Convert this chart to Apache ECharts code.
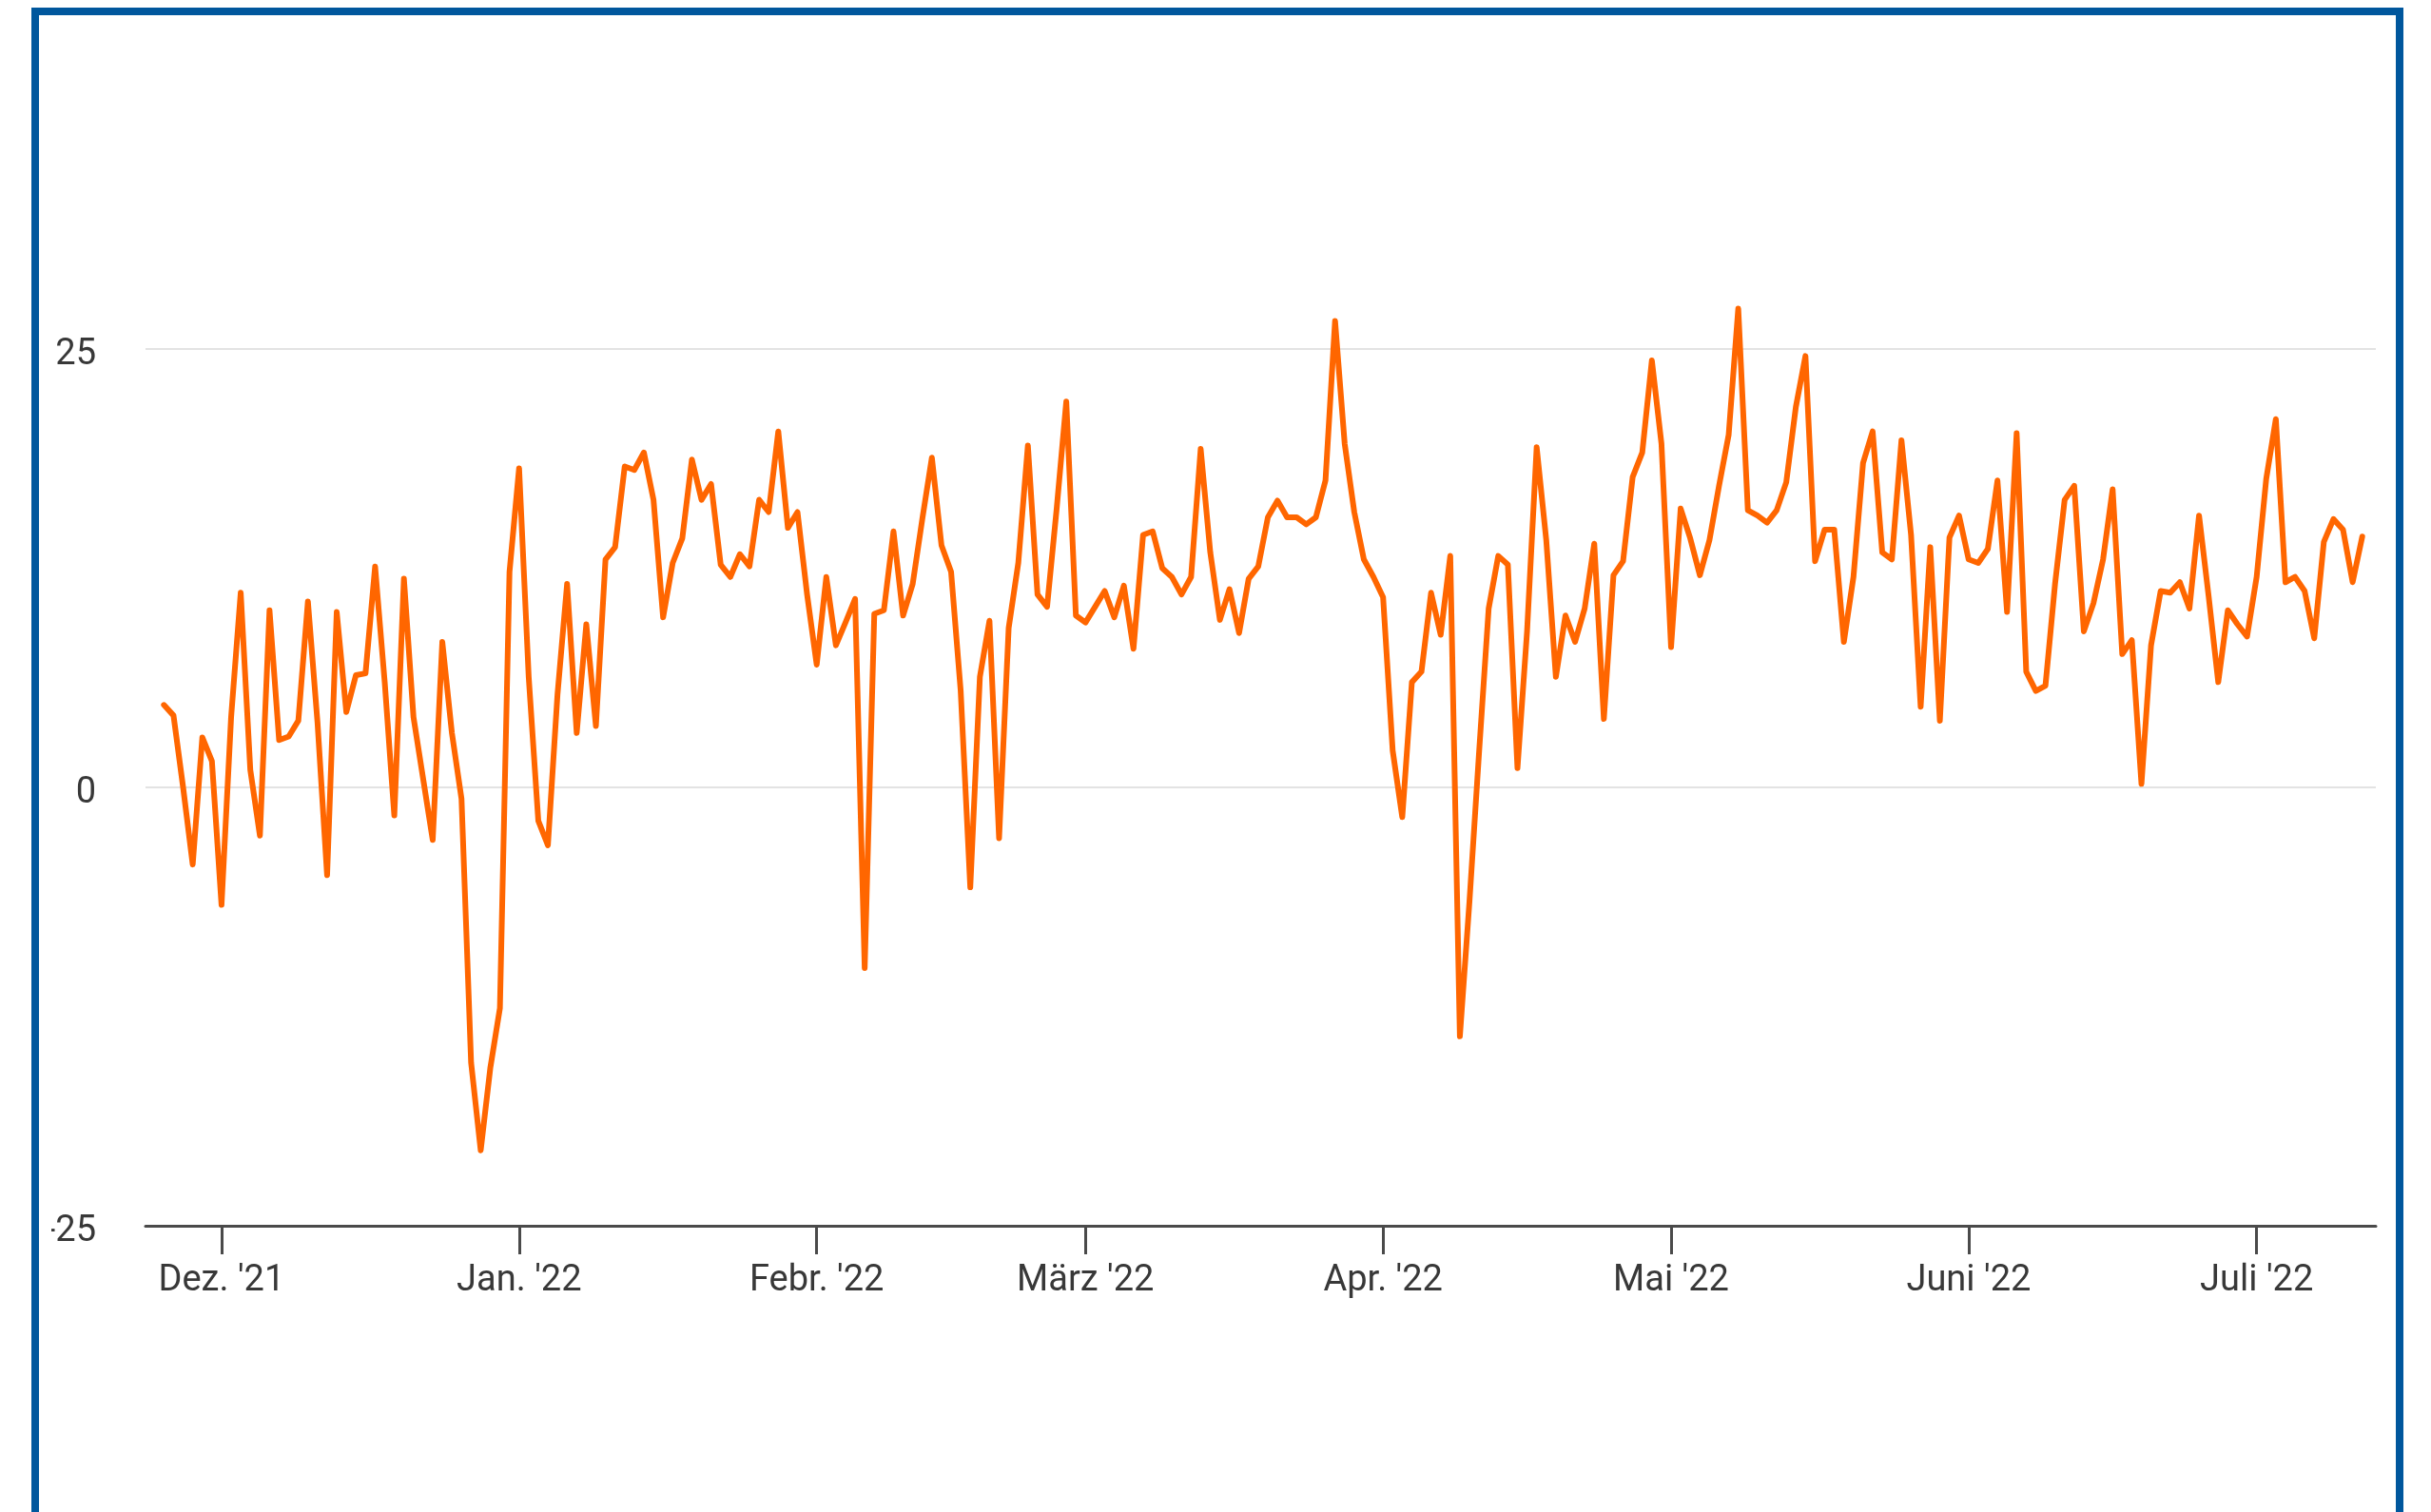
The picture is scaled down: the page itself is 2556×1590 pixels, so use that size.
<!DOCTYPE html>
<html>
<head>
<meta charset="utf-8">
<script src="https://cdn.jsdelivr.net/npm/echarts@6/dist/echarts.min.js"></script>
<style>
  html, body { margin: 0; padding: 0; background: #ffffff; width: 2556px; height: 1590px; overflow: hidden; }
  #frame { position: absolute; left: 33px; top: 8px; width: 2478px; height: 1700px; border: 8px solid #00579d; border-bottom: none; box-sizing: content-box; }
  #chart { position: absolute; left: 54px; top: 0px; width: 2465px; height: 1590px; }
</style>
</head>
<body>
<div id="frame"></div>
<div id="chart"></div>
<script>
// Series: one value per day, starting 25 Nov 2021, ending 12 Jul 2022
const startDate = [2021, 10, 25]; // year, month index, day
const values = [
  4.7, 4.1, 0.0, -4.4, 2.85, 1.5,
  -6.7, 4.0, 11.1, 1.0, -2.75, 10.1, 2.7, 2.9, 3.8, 10.6, 3.7, -5.0, 10.0, 4.3, 6.4, 6.5,
  12.6, 6.0, -1.6, 11.9, 4.0, 0.5, -3.0, 8.3, 3.1, -0.65, -15.7, -20.7, -16.0, -12.6, 12.3,
  18.2, 6.3, -1.9, -3.3, 5.3, 11.6, 3.1, 9.3, 3.5, 13.0, 13.7, 18.3, 18.1, 19.1, 16.4, 9.7,
  12.8, 14.2, 18.7, 16.4, 17.3, 12.7, 12.0, 13.3, 12.6, 16.4, 15.7, 20.3, 14.8, 15.7, 11.0,
  7.0, 12.0, 8.1, 9.4, 10.75, -10.3, 9.9, 10.1, 14.6, 9.8, 11.6, 15.3, 18.8, 13.8, 12.3, 5.5,
  -5.7, 6.3, 9.5, -2.9, 9.1, 12.8, 19.5, 11.0, 10.3, 15.9, 22.0, 9.8,
  9.4, 10.3, 11.2, 9.7, 11.5, 7.9, 14.4, 14.6, 12.5, 12.0, 11.0, 12.0, 19.3, 13.4, 9.55, 11.3,
  8.8, 11.9, 12.6, 15.4, 16.35, 15.4, 15.4, 15.0, 15.4, 17.5, 26.6, 19.6, 15.7, 13.0, 12.0,
  10.85, 2.1, -1.7, 6.0, 6.6, 11.1, 8.7, 13.2, -14.2, -6.5, 2.0, 10.2, 13.2, 12.7, 1.1, 8.9,
  19.4, 14.1, 6.3, 9.8, 8.3, 10.2, 13.9, 3.9, 12.1, 12.9, 17.7, 19.1, 24.35, 19.6,
  8.0, 15.9, 14.2, 12.1, 14.1, 17.2, 20.1, 27.3, 15.8, 15.5, 15.1, 15.8, 17.4, 21.7, 24.6, 12.9,
  14.7, 14.7, 8.3, 12.0, 18.5, 20.3, 13.4, 13.0, 19.8, 14.4, 4.6, 13.7, 3.8, 14.25, 15.5,
  13.0, 12.8, 13.6, 17.5, 10.0, 20.2, 6.6, 5.5, 5.8, 11.6, 16.4, 17.2, 8.9, 10.5, 13.0, 17.0,
  7.6, 8.4, 0.2, 8.1, 11.2, 11.1, 11.7, 10.2, 15.5, 10.9, 6.0, 10.1, 9.3, 8.6,
  12.0, 17.6, 21.0, 11.7, 12.0, 11.2, 8.5, 14.0, 15.3, 14.7, 11.7, 14.3
];
const tickDates = ["2021-12-01", "2022-01-01", "2022-02-01", "2022-03-01", "2022-04-01", "2022-05-01", "2022-06-01", "2022-07-01"];
const tickLabels = ["Dez. '21", "Jan. '22", "Febr. '22", "März '22", "Apr. '22", "Mai '22", "Juni '22", "Juli '22"];
const yTicks = [-25, 0, 25];

function toTime(s) { const p = s.split('-').map(Number); return new Date(p[0], p[1] - 1, p[2]).getTime(); }
const tickTimes = tickDates.map(toTime);
const seriesData = values.map((v, i) => [new Date(startDate[0], startDate[1], startDate[2] + i).getTime(), v]);

const chart = echarts.init(document.getElementById('chart'), null, { renderer: 'canvas' });
const font = 'Roboto, "Noto Sans", sans-serif';
chart.setOption({
  animation: false,
  backgroundColor: 'transparent',
  grid: { left: 99, right: 21, top: 367, bottom: 301, containLabel: false, outerBoundsMode: 'none' },
  xAxis: {
    type: 'value',
    min: new Date(2021, 10, 23, 2).getTime(),
    max: new Date(2022, 6, 13, 10).getTime(),
    axisLine: { show: true, onZero: false, lineStyle: { color: '#4a4a4a', width: 3 } },
    axisTick: { show: true, length: 30, lineStyle: { color: '#4a4a4a', width: 3 }, customValues: tickTimes },
    axisLabel: {
      show: true, margin: 39, color: '#383838', fontSize: 38, fontFamily: font,
      customValues: tickTimes,
      formatter: function (val) {
        let best = -1, bd = Infinity;
        tickTimes.forEach((t, i) => { const d = Math.abs(t - val); if (d < bd) { bd = d; best = i; } });
        return bd < 3600 * 1000 ? tickLabels[best] : '';
      }
    },
    splitLine: { show: false }
  },
  yAxis: {
    type: 'value',
    min: yTicks[0], max: yTicks[yTicks.length - 1], interval: 25,
    axisLine: { show: false },
    axisTick: { show: false },
    axisLabel: { color: '#383838', fontSize: 38, fontFamily: font, margin: 52, verticalAlign: 'top', lineHeight: 13 },
    splitLine: { show: true, lineStyle: { color: '#e3e3e3', width: 2 } }
  },
  series: [{
    type: 'line',
    data: seriesData,
    showSymbol: false,
    clip: false,
    lineStyle: { color: '#ff6600', width: 6, join: 'round', cap: 'round' },
    itemStyle: { color: '#ff6600' }
  }]
});
</script>
</body>
</html>
